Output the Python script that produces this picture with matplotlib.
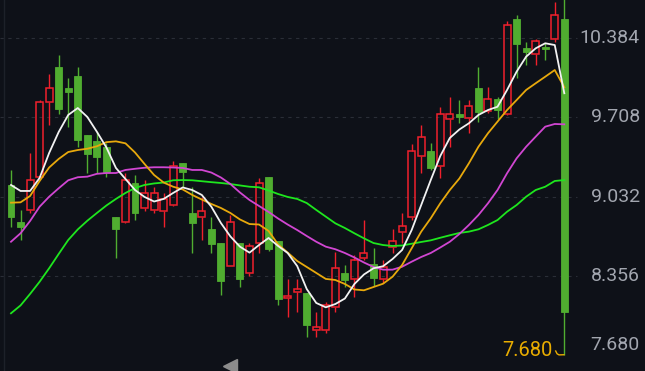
import numpy as np
import matplotlib
import matplotlib.pyplot as plt
from matplotlib.patches import Rectangle
from matplotlib.transforms import Affine2D, ScaledTranslation, blended_transform_factory

plt.rcParams['font.family'] = ['Roboto', 'DejaVu Sans']
plt.rcParams['lines.scale_dashes'] = False

# daily candles (open / high / low / close)
opens = [9.131, 8.818, 8.918, 9.202, 9.836, 10.134, 9.955, 10.060, 9.557, 9.509,
         9.457, 8.861, 8.813, 9.145, 8.932, 8.918, 8.912, 8.960, 9.316, 8.895,
         8.856, 8.753, 8.639, 8.443, 8.634, 8.383, 8.639, 9.202, 8.656, 8.165,
         8.221, 8.208, 7.895, 7.895, 8.094, 8.383, 8.327, 8.506, 8.457, 8.327,
         8.605, 8.728, 8.856, 9.378, 9.421, 9.293, 9.691, 9.736, 9.699, 9.955,
         9.764, 9.864, 9.733, 10.543, 10.296, 10.248, 10.310, 10.373, 10.543]
highs = [9.259, 8.918, 9.406, 9.855, 10.077, 10.239, 10.040, 10.134, 9.557, 9.585,
         9.489, 8.861, 9.231, 9.216, 9.173, 9.116, 9.065, 9.335, 9.316, 9.111,
         9.031, 8.856, 8.639, 8.875, 8.634, 8.639, 9.188, 9.202, 8.656, 8.327,
         8.327, 8.208, 8.051, 8.136, 8.562, 8.449, 8.534, 8.832, 8.591, 8.492,
         8.753, 8.890, 9.480, 9.642, 9.491, 9.793, 9.879, 9.856, 9.856, 10.134,
         9.969, 9.884, 10.532, 10.580, 10.353, 10.373, 10.339, 10.694, 10.800]
lows = [8.775, 8.662, 8.895, 9.199, 9.642, 9.736, 9.628, 9.457, 9.231, 9.231,
        9.202, 8.506, 8.804, 8.833, 8.912, 8.895, 8.775, 8.952, 9.116, 8.549,
        8.662, 8.554, 8.193, 8.443, 8.259, 8.355, 8.554, 8.571, 8.108, 8.008,
        8.051, 7.832, 7.832, 7.872, 8.051, 8.259, 8.179, 8.492, 8.270, 8.293,
        8.549, 8.639, 8.833, 9.231, 9.259, 9.188, 9.457, 9.662, 9.577, 9.671,
        9.742, 9.691, 9.728, 10.043, 10.154, 10.154, 10.197, 10.353, 7.680]
closes = [8.861, 8.775, 9.173, 9.841, 9.960, 9.779, 9.926, 9.515, 9.395, 9.367,
          9.244, 8.756, 9.173, 8.895, 9.060, 9.060, 9.009, 9.296, 9.244, 8.804,
          8.912, 8.628, 8.315, 8.818, 8.330, 8.611, 9.145, 8.583, 8.156, 8.185,
          8.242, 7.937, 7.918, 8.108, 8.421, 8.321, 8.492, 8.554, 8.335, 8.434,
          8.656, 8.784, 9.423, 9.543, 9.273, 9.736, 9.736, 9.708, 9.807, 9.751,
          9.864, 9.770, 10.495, 10.330, 10.267, 10.361, 10.288, 10.580, 8.051]

# moving averages as drawn on the chart
ma5 = [9.131, 9.080, 9.080, 9.191, 9.404, 9.583, 9.728, 9.787, 9.711, 9.585,
       9.451, 9.276, 9.182, 9.088, 9.029, 8.990, 9.012, 9.063, 9.110, 9.088,
       9.046, 8.946, 8.807, 8.692, 8.605, 8.554, 8.619, 8.679, 8.611, 8.551,
       8.440, 8.244, 8.125, 8.088, 8.116, 8.163, 8.287, 8.368, 8.421, 8.438,
       8.500, 8.577, 8.747, 8.960, 9.173, 9.378, 9.532, 9.604, 9.657, 9.728,
       9.770, 9.798, 9.941, 10.097, 10.225, 10.296, 10.339, 10.324, 9.913]
ma10 = [8.980, 8.983, 9.037, 9.165, 9.280, 9.353, 9.412, 9.429, 9.440, 9.461,
        9.496, 9.503, 9.486, 9.408, 9.310, 9.216, 9.152, 9.116, 9.093, 9.046,
        9.007, 8.969, 8.935, 8.892, 8.837, 8.798, 8.794, 8.739, 8.624, 8.555,
        8.483, 8.432, 8.381, 8.330, 8.321, 8.287, 8.240, 8.233, 8.261, 8.289,
        8.349, 8.449, 8.591, 8.733, 8.847, 8.975, 9.088, 9.186, 9.316, 9.457,
        9.572, 9.671, 9.770, 9.855, 9.941, 9.998, 10.054, 10.111, 9.964]
ma20 = [8.647, 8.719, 8.824, 8.946, 9.031, 9.103, 9.171, 9.197, 9.202, 9.226,
        9.233, 9.233, 9.259, 9.269, 9.278, 9.282, 9.282, 9.280, 9.276, 9.259,
        9.259, 9.237, 9.195, 9.139, 9.067, 9.003, 8.952, 8.901, 8.845, 8.794,
        8.747, 8.696, 8.647, 8.605, 8.583, 8.551, 8.513, 8.470, 8.432, 8.409,
        8.409, 8.434, 8.477, 8.517, 8.551, 8.598, 8.647, 8.713, 8.790, 8.875,
        8.975, 9.088, 9.231, 9.358, 9.457, 9.543, 9.628, 9.651, 9.648]
ma30 = [8.037, 8.104, 8.202, 8.306, 8.421, 8.543, 8.662, 8.752, 8.826, 8.892,
        8.956, 9.012, 9.063, 9.105, 9.131, 9.144, 9.152, 9.171, 9.173, 9.171,
        9.163, 9.155, 9.148, 9.139, 9.127, 9.116, 9.111, 9.084, 9.054, 9.029,
        9.012, 8.977, 8.918, 8.861, 8.804, 8.764, 8.719, 8.676, 8.636, 8.619,
        8.611, 8.615, 8.630, 8.645, 8.659, 8.681, 8.702, 8.722, 8.733, 8.753,
        8.790, 8.832, 8.903, 8.960, 9.031, 9.088, 9.116, 9.165, 9.173]

price_ticks = [10.384, 9.708, 9.032, 8.356, 7.680]
low_label = '7.680'

bg = '#0e1118'
up_color = '#f0202c'
down_color = '#50ad30'

fig = plt.figure(figsize=(6.45, 3.71), dpi=100)
fig.patch.set_facecolor(bg)
ax = fig.add_axes([0, 0, 1, 1])
ax.set_facecolor(bg)
ax.set_xlim(-1.153, 66.46)
ax.set_ylim(7.545, 10.708)
ax.axis('off')

# dashed price grid
ax.hlines(price_ticks[:-1], -1.2, 59.3, colors='#2a2e37', linewidth=0.8,
          linestyles=(0, (2.4, 3.2)), zorder=1)
ax.axvline(-0.73, color='#1d2129', linewidth=1.0, zorder=1)

x = np.arange(len(closes))
w = 0.73
for i in x:
    o, h, l, c = opens[i], highs[i], lows[i], closes[i]
    top, bot = max(o, c), min(o, c)
    if c >= o:
        ax.vlines(i, top, h, color=up_color, linewidth=1.0, zorder=2)
        ax.vlines(i, l, bot, color=up_color, linewidth=1.0, zorder=2)
        ax.add_patch(Rectangle((i - w / 2, bot), w, top - bot, facecolor='none',
                               edgecolor=up_color, linewidth=1.1, zorder=3))
    else:
        ax.vlines(i, l, h, color=down_color, linewidth=1.0, zorder=2)
        ax.add_patch(Rectangle((i - w / 2, bot), w, top - bot, facecolor=down_color,
                               edgecolor=down_color, linewidth=0.6, zorder=3))

ax.plot(x, ma30, color='#1ee61e', linewidth=1.3, zorder=4)
ax.plot(x, ma20, color='#d146d2', linewidth=1.3, zorder=4)
ax.plot(x, ma10, color='#e8a90c', linewidth=1.3, zorder=4)
ax.plot(x, ma5, color='#f2f2f2', linewidth=1.3, zorder=5)

# right price labels
tr = blended_transform_factory(ax.transAxes, ax.transData)
for p in price_ticks[:-1]:
    ax.text(0.992, p, f'{p:.3f}', transform=tr, ha='right', va='center',
            fontsize=14, color='#a2a6af')
ax.annotate(f'{price_ticks[-1]:.3f}', xy=(0.992, price_ticks[-1]), xycoords=tr,
            xytext=(0, 7.5), textcoords='offset points', ha='right', va='center',
            fontsize=14, color='#a2a6af')

# lowest price marker
gold = '#e9ad00'
ilow = int(np.argmin(lows))
ax.annotate(low_label, xy=(ilow, lows[ilow]), xytext=(-8.5, 3), textcoords='offset points',
            ha='right', va='center', fontsize=14.5, color=gold, zorder=6)
hook = Affine2D().scale(fig.dpi / 72) + ScaledTranslation(ilow, lows[ilow], ax.transData)
ax.plot([-6.2, -5.2, -3.8, -0.3], [3.0, 1.0, 0.2, 0.3], color=gold, linewidth=1.0,
        transform=hook, clip_on=False, zorder=6)

# scroll arrow at the bottom
ax.plot(0.3566, 0.014, marker='<', markersize=10, color='#8c8c8c',
        transform=ax.transAxes, clip_on=False)

fig.savefig('out.png', dpi=100, facecolor=bg)
